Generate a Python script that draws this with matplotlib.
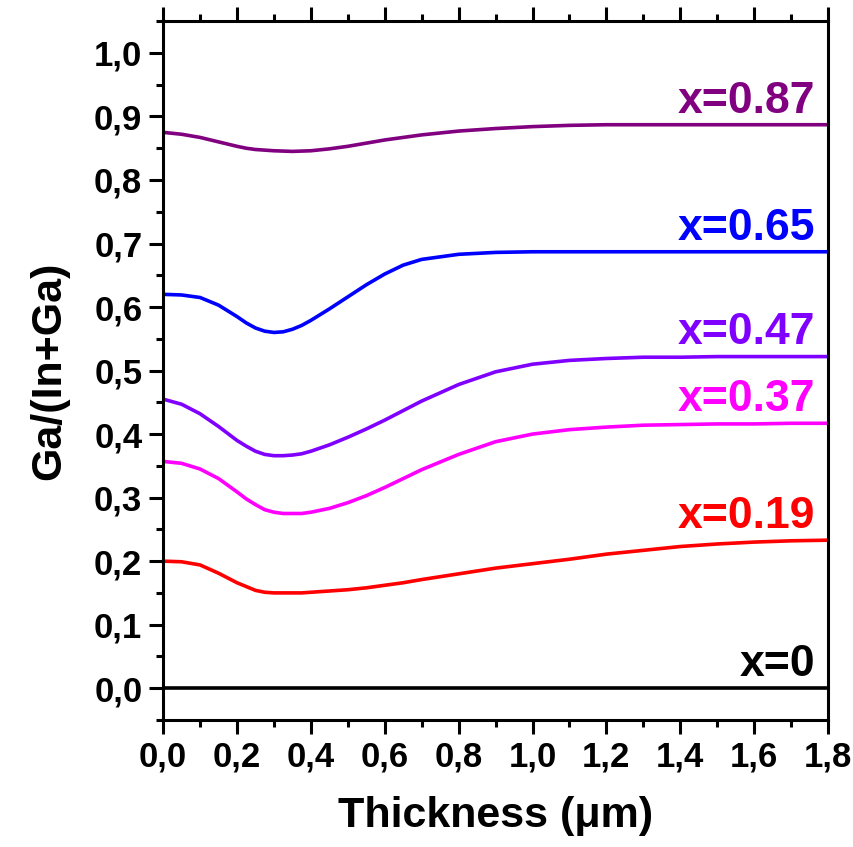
import matplotlib
matplotlib.use("Agg")
import matplotlib.pyplot as plt
from matplotlib.ticker import MultipleLocator, FuncFormatter

plt.rcParams['font.family'] = ['Liberation Sans', 'DejaVu Sans']
plt.rcParams['font.weight'] = 'bold'

# thickness grid (um)
thickness = [0.0, 0.05, 0.1, 0.15, 0.2, 0.225, 0.25, 0.275, 0.3, 0.325, 0.35, 0.375, 0.4,
             0.45, 0.5, 0.55, 0.6, 0.65, 0.7, 0.8, 0.9, 1.0, 1.1, 1.2, 1.3, 1.4, 1.5, 1.6, 1.7, 1.8]

ga_087 = [0.875, 0.872, 0.867, 0.860, 0.853, 0.850, 0.848, 0.847, 0.846, 0.8455, 0.845, 0.8455, 0.846,
          0.849, 0.853, 0.858, 0.863, 0.867, 0.871, 0.877, 0.881, 0.884, 0.886, 0.887, 0.887, 0.887,
          0.887, 0.887, 0.887, 0.887]
ga_065 = [0.620, 0.619, 0.615, 0.603, 0.585, 0.575, 0.567, 0.562, 0.560, 0.561, 0.565, 0.571, 0.579,
          0.597, 0.616, 0.635, 0.652, 0.666, 0.675, 0.683, 0.686, 0.687, 0.687, 0.687, 0.687, 0.687,
          0.687, 0.687, 0.687, 0.687]
ga_047 = [0.455, 0.447, 0.432, 0.412, 0.390, 0.381, 0.373, 0.368, 0.366, 0.366, 0.367, 0.369, 0.373,
          0.383, 0.395, 0.408, 0.422, 0.437, 0.452, 0.478, 0.498, 0.510, 0.516, 0.519, 0.521, 0.521,
          0.522, 0.522, 0.522, 0.522]
ga_037 = [0.357, 0.354, 0.345, 0.330, 0.309, 0.298, 0.289, 0.281, 0.277, 0.275, 0.275, 0.275, 0.277,
          0.283, 0.292, 0.303, 0.316, 0.330, 0.344, 0.368, 0.388, 0.400, 0.407, 0.411, 0.414, 0.415,
          0.416, 0.416, 0.417, 0.417]
ga_019 = [0.200, 0.199, 0.194, 0.181, 0.166, 0.160, 0.154, 0.151, 0.150, 0.150, 0.150, 0.150, 0.151,
          0.153, 0.155, 0.158, 0.162, 0.166, 0.171, 0.180, 0.189, 0.196, 0.203, 0.211, 0.217, 0.223,
          0.227, 0.230, 0.232, 0.233]
ga_0 = [0.0] * len(thickness)

labels = ['x=0.87', 'x=0.65', 'x=0.47', 'x=0.37', 'x=0.19', 'x=0']
series = [ga_087, ga_065, ga_047, ga_037, ga_019, ga_0]
colors = ['#800080', '#0000FF', '#8000FF', '#FF00FF', '#FF0000', '#000000']

fig = plt.figure(figsize=(8.54, 8.47), dpi=100)
ax = fig.add_axes([0.191, 0.150, 0.7786, 0.825])

for vals, lab, col in zip(series, labels, colors):
    ax.plot(thickness, vals, color=col, lw=2.6, solid_joinstyle='round', solid_capstyle='butt')
    ax.text(1.765, vals[-1] + 0.005, lab, color=col, fontsize=32, fontweight='bold',
            ha='right', va='bottom')

ax.set_xlim(0, 1.8)
ax.set_ylim(-0.05, 1.05)
ax.xaxis.set_major_locator(MultipleLocator(0.2))
ax.xaxis.set_minor_locator(MultipleLocator(0.1))
ax.yaxis.set_major_locator(MultipleLocator(0.1))
ax.yaxis.set_minor_locator(MultipleLocator(0.05))
fmt = FuncFormatter(lambda v, p: f"{v:.1f}".replace('.', ','))
ax.xaxis.set_major_formatter(fmt)
ax.yaxis.set_major_formatter(fmt)

for s in ax.spines.values():
    s.set_linewidth(2.2)

ax.tick_params(which='both', direction='out', width=2.2, top=True, right=False,
               labelsize=25, pad=5)
ax.tick_params(which='major', length=10)
ax.tick_params(which='minor', length=5)
for lbl in ax.get_xticklabels() + ax.get_yticklabels():
    lbl.set_fontweight('bold')

ax.set_xlabel('Thickness (μm)', fontsize=31, fontweight='bold', labelpad=16)
ax.set_ylabel('Ga/(In+Ga)', fontsize=31, fontweight='bold', labelpad=18)

fig.savefig('out.png', dpi=100)
